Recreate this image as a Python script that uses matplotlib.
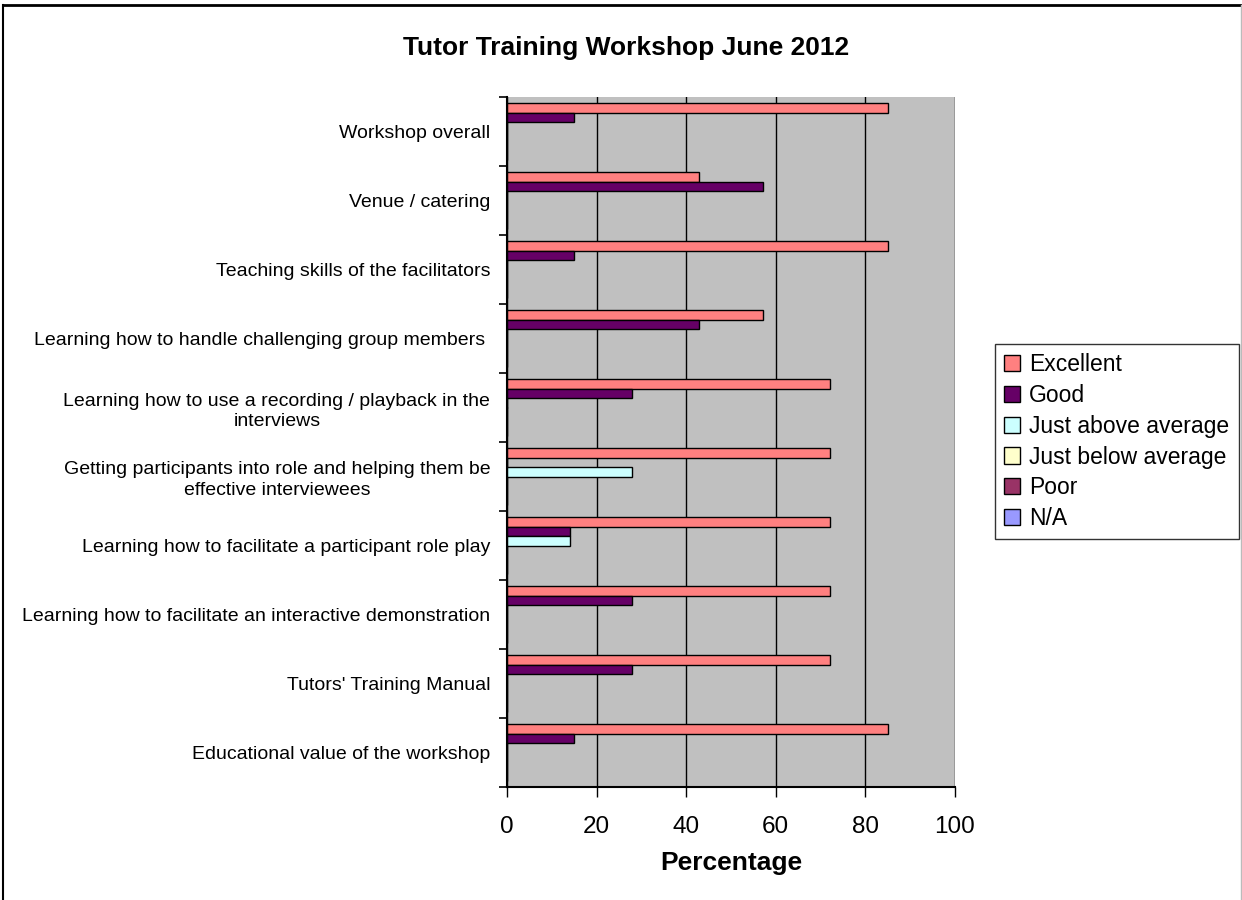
import numpy as np
import matplotlib
matplotlib.use("Agg")
import matplotlib.pyplot as plt
from matplotlib.lines import Line2D

plt.rcParams['font.family'] = ['Liberation Sans', 'DejaVu Sans']

# Data
categories = [
    "Workshop overall",
    "Venue / catering",
    "Teaching skills of the facilitators",
    "Learning how to handle challenging group members ",
    "Learning how to use a recording / playback in the\ninterviews",
    "Getting participants into role and helping them be\neffective interviewees",
    "Learning how to facilitate a participant role play",
    "Learning how to facilitate an interactive demonstration",
    "Tutors' Training Manual",
    "Educational value of the workshop",
]
series_names = ["Excellent", "Good", "Just above average", "Just below average", "Poor", "N/A"]
excellent = [85, 42.9, 85, 57.1, 72, 72, 72, 72, 72, 85]
good = [15, 57.1, 15, 42.9, 28, 0, 14, 28, 28, 15]
just_above = [0, 0, 0, 0, 0, 28, 14, 0, 0, 0]
just_below = [0, 0, 0, 0, 0, 0, 0, 0, 0, 0]
poor = [0, 0, 0, 0, 0, 0, 0, 0, 0, 0]
not_applicable = [0, 0, 0, 0, 0, 0, 0, 0, 0, 0]
x_ticks = [0, 20, 40, 60, 80, 100]

series_values = [excellent, good, just_above, just_below, poor, not_applicable]
series_colors = ["#FF8080", "#660066", "#CCFFFF", "#FFFFCC", "#993366", "#9999FF"]

W, H = 1242, 900
fig = plt.figure(figsize=(W / 100, H / 100), dpi=100)
ax = fig.add_axes([507 / W, 1 - 787 / H, (955 - 507) / W, (787 - 97) / H])
ax.set_facecolor("#C0C0C0")

# Clustered bars, Excel style (cluster centred in each category band)
y = np.arange(len(categories))
bar_h = 0.136
n = len(series_names)
for j, (name, vals, col) in enumerate(zip(series_names, series_values, series_colors)):
    offset = (j - (n - 1) / 2) * bar_h
    ax.barh(y + offset, vals, height=bar_h, color=col, edgecolor="black",
            linewidth=1.0, label=name, zorder=3)

ax.set_ylim(len(categories) - 0.5, -0.5)
ax.set_xlim(0, 100)

# y axis: labels at centres, tick marks at band boundaries
ax.set_yticks(y)
ax.set_yticklabels(categories, fontsize=14, multialignment="center", linespacing=1.3)
ax.tick_params(axis="y", which="major", length=0, pad=12)
ax.set_yticks(np.arange(-0.5, len(categories)), minor=True)
ax.tick_params(axis="y", which="minor", length=6, width=1.2, color="black")

# x axis
ax.set_xticks(x_ticks)
ax.tick_params(axis="x", length=7, width=1.0, pad=14, labelsize=17.5)
ax.set_xlabel("Percentage", fontsize=19, fontweight="bold", labelpad=9)

# vertical gridlines
ax.xaxis.grid(True, color="black", linewidth=1.0, zorder=1)
ax.set_axisbelow(True)

for side in ["top", "right"]:
    ax.spines[side].set_visible(False)
for side in ["left", "bottom"]:
    ax.spines[side].set_linewidth(1.5)
    ax.spines[side].set_zorder(4)

fig.text(626 / W, 1 - 48 / H, "Tutor Training Workshop June 2012",
         ha="center", va="center", fontsize=19, fontweight="bold")

leg = ax.legend(loc="upper left", bbox_to_anchor=(995 / W, 1 - 344 / H),
                bbox_transform=fig.transFigure, borderaxespad=0,
                fontsize=16.5, frameon=True, fancybox=False,
                handlelength=0.7, handleheight=0.7, handletextpad=0.4,
                labelspacing=0.34, borderpad=0.4)
leg.get_frame().set_edgecolor("black")
leg.get_frame().set_linewidth(1.0)

# chart area border
fig.add_artist(Line2D([3 / W, 1241 / W], [1 - 5 / H, 1 - 5 / H], color="black", linewidth=2))
fig.add_artist(Line2D([3 / W, 3 / W], [0, 1 - 5 / H], color="black", linewidth=1.5))
fig.add_artist(Line2D([1240.5 / W, 1240.5 / W], [0, 1 - 5 / H], color="#BBBBBB", linewidth=1))

fig.savefig("out.png", dpi=100)
